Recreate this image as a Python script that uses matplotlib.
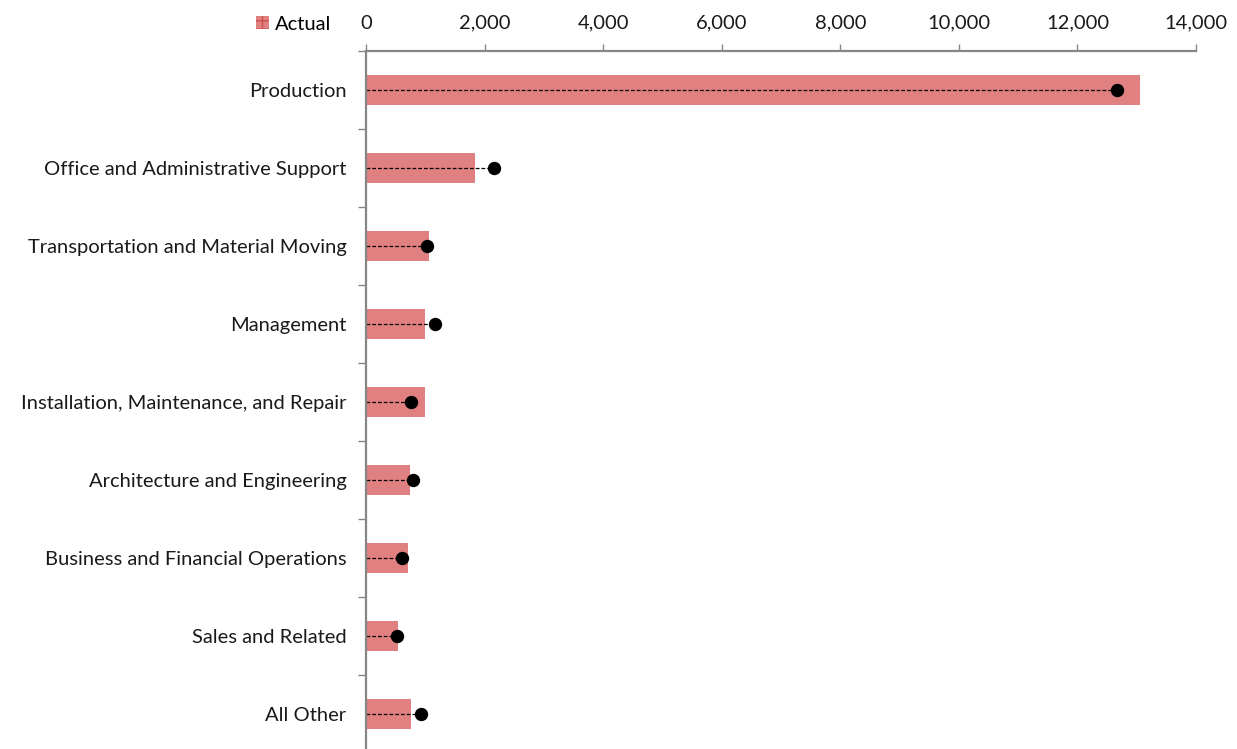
import matplotlib
matplotlib.use("Agg")
import matplotlib.pyplot as plt
from matplotlib.patches import Patch
import numpy as np

categories = ["Production", "Office and Administrative Support",
              "Transportation and Material Moving", "Management",
              "Installation, Maintenance, and Repair", "Architecture and Engineering",
              "Business and Financial Operations", "Sales and Related", "All Other"]
actual = [13050, 1840, 1065, 995, 995, 745, 715, 535, 755]
target = [12670, 2155, 1025, 1165, 760, 790, 605, 525, 935]
xticks = [0, 2000, 4000, 6000, 8000, 10000, 12000, 14000]

plt.rcParams['font.family'] = ['Lato', 'DejaVu Sans']
FS = 14.5

fig = plt.figure(figsize=(12.37, 7.49), dpi=100)
ax = fig.add_axes([366/1237, 1-753/749, 830/1237, 702/749])

y = np.arange(len(categories))
bar_color = '#E08080'
ax.barh(y, actual, height=0.385, color=bar_color, edgecolor='none', zorder=1)
for yi, t in zip(y, target):
    ax.plot([0, t], [yi, yi], color='black', lw=0.9, ls=(0, (3, 1.6)), zorder=2)
ax.plot(target, y, 'o', color='black', markersize=8.6, zorder=3, linestyle='none')

ax.set_xlim(0, 14000)
ax.set_ylim(len(categories) - 0.5, -0.5)

ax.xaxis.tick_top()
ax.set_xticks(xticks)
ax.set_xticklabels([f"{v:,}" for v in xticks], fontsize=FS, color='#1a1a1a')
ax.tick_params(axis='x', direction='out', length=5, width=1, color='#868686', pad=9)

ax.set_yticks(np.arange(len(categories) + 1) - 0.5)
ax.set_yticklabels([])
ax.set_yticks(y, minor=True)
ax.set_yticklabels(categories, minor=True, fontsize=FS, color='#1a1a1a')
ax.tick_params(axis='y', which='major', direction='out', length=6, width=1, color='#868686')
ax.tick_params(axis='y', which='minor', length=0, pad=14)

for s in ['right', 'bottom']:
    ax.spines[s].set_visible(False)
for s in ['top', 'left']:
    ax.spines[s].set_color('#868686')
    ax.spines[s].set_linewidth(1.6)

handle = Patch(facecolor=bar_color, edgecolor='#D05050', hatch='++', linewidth=0)
fig.legend([handle], ['Actual'], loc='center right',
           bbox_to_anchor=(341/1237, 1-24/749), frameon=False, fontsize=FS,
           handlelength=0.6, handleheight=0.6, handletextpad=0.3, borderpad=0)

fig.savefig("out.png", dpi=100)
